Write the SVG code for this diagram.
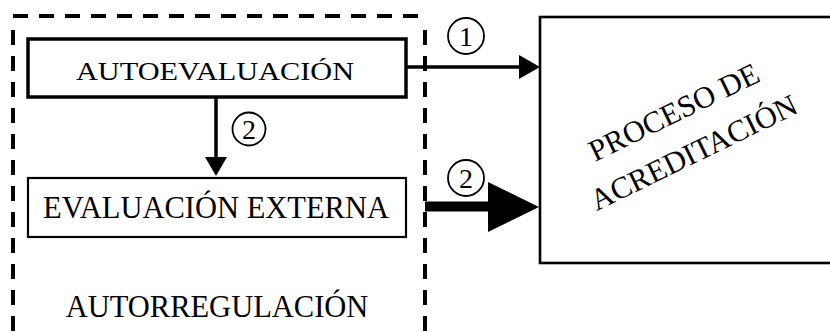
<svg xmlns="http://www.w3.org/2000/svg" width="830" height="332" viewBox="0 0 830 332">
<style>
text{font-family:"Liberation Serif","Times New Roman",serif;fill:#000}
.box{fill:#fff;stroke:#000}
.dash{fill:none;stroke:#000;stroke-width:4;stroke-dasharray:15 11}
.num{fill:#fff;stroke:#000;stroke-width:1.8}
.dig{font-size:28px;text-anchor:middle}
.lbl{font-size:30.5px;text-anchor:middle}
</style>
<rect width="830" height="332" fill="#fff"/>
<g id="autorregulacion">
<path class="dash" d="M13 16H425"/>
<path class="dash" d="M13 30V340"/>
<path class="dash" d="M425 30V340"/>
<text class="lbl" x="217" y="317">AUTORREGULACIÓN</text>
</g>
<g id="autoevaluacion">
<rect class="box" x="28" y="39" width="378" height="58" stroke-width="3.5"/>
<text x="215" y="80" font-size="25.5" text-anchor="middle" textLength="278" lengthAdjust="spacingAndGlyphs">AUTOEVALUACIÓN</text>
</g>
<g id="evaluacion-externa">
<rect class="box" x="28" y="178" width="378" height="59" stroke-width="2.2"/>
<text class="lbl" x="216" y="218">EVALUACIÓN EXTERNA</text>
</g>
<g id="proceso-acreditacion">
<rect class="box" x="540" y="17" width="310" height="246" stroke-width="2.6"/>
<g transform="translate(688,141) rotate(-26)">
<text class="lbl" x="0" y="-22">PROCESO DE</text>
<text class="lbl" x="0" y="23">ACREDITACIÓN</text>
</g>
</g>
<g id="connectors">
<path d="M406 67H521" stroke="#000" stroke-width="3.5" fill="none"/>
<polygon points="519,55 540,67 519,79" fill="#000"/>
<path d="M216 97V158" stroke="#000" stroke-width="3.5" fill="none"/>
<polygon points="205,157 227,157 216,176" fill="#000"/>
<rect x="425" y="201.5" width="65" height="10" fill="#000"/>
<polygon points="488,182 539,207 488,232" fill="#000"/>
<circle class="num" cx="466" cy="36" r="18"/>
<text class="dig" x="466" y="46">1</text>
<circle class="num" cx="249" cy="129" r="16.5"/>
<text class="dig" x="249" y="139">2</text>
<circle class="num" cx="466" cy="178" r="18"/>
<text class="dig" x="466" y="188">2</text>
</g>
</svg>
